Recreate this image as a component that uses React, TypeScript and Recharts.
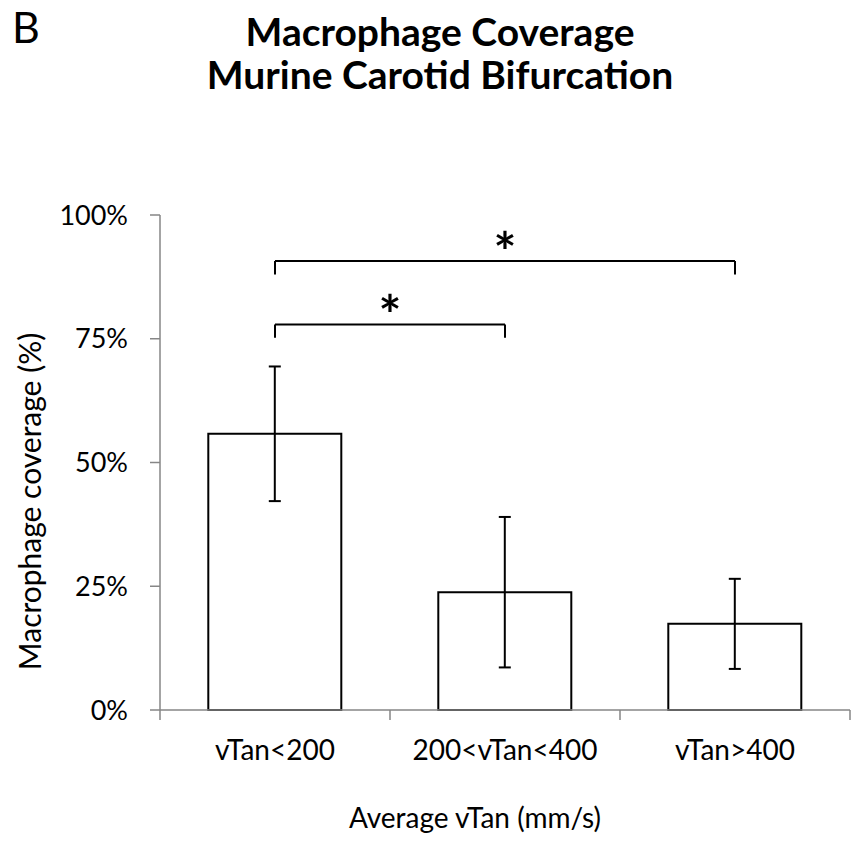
import { BarChart, Bar, XAxis, YAxis, ErrorBar, ReferenceLine, Label } from 'recharts'

const categories = ['vTan<200', '200<vTan<400', 'vTan>400']
const coverage = [55.8, 23.8, 17.4]
const coverageErr = [13.6, 15.2, 9.1]
const yTicks = [0, 25, 50, 75, 100]

// significance brackets, in % units
const brackets = [
  { from: 'vTan<200', to: '200<vTan<400', top: 77.9, foot: 75.2 },
  { from: 'vTan<200', to: 'vTan>400', top: 90.7, foot: 88.0 },
]

const data = categories.map((name, i) => ({ name, coverage: coverage[i], err: coverageErr[i] }))

const FONT = 'Lato, "Open Sans", sans-serif'
const AXIS = '#868686'

// Excel-style category tick: tick marks sit on the band edges, label in the middle
function CatTick(props: any) {
  const { x, y, payload, index, width } = props
  const half = width / categories.length / 2
  const last = index === categories.length - 1
  return (
    <g>
      <line x1={x - half} x2={x - half} y1={y} y2={y + 10} stroke={AXIS} strokeWidth={1.5} />
      {last && <line x1={x + half} x2={x + half} y1={y} y2={y + 10} stroke={AXIS} strokeWidth={1.5} />}
      <text x={x} y={y + 50} textAnchor="middle" fill="#000" fontSize={28} fontFamily={FONT}>
        {payload.value}
      </text>
    </g>
  )
}

export default function App() {
  return (
    <div style={{ position: 'absolute', left: 0, top: 0, width: 860, height: 846, background: '#fff', fontFamily: FONT }}>
      <BarChart width={860} height={846} data={data} barCategoryGap="21%"
        margin={{ top: 215, right: 10, bottom: 16, left: 0 }}>
        <XAxis dataKey="name" tickLine={false} tickSize={0} tickMargin={0} height={120} interval={0}
          axisLine={{ stroke: AXIS, strokeWidth: 1.5 }} tick={<CatTick />}>
          <Label content={({ viewBox }: any) => (
            <text x={viewBox.x + viewBox.width / 2 - 30} y={viewBox.y + viewBox.height - 2} textAnchor="middle"
              fill="#000" fontSize={28} fontFamily={FONT}>
              Average vTan (mm/s)
            </text>
          )} />
        </XAxis>
        <YAxis domain={[0, 100]} ticks={yTicks} width={160} tickSize={10} tickMargin={22}
          tickFormatter={(v: number) => `${v}%`}
          tick={{ fill: '#000', fontSize: 27, fontFamily: FONT }}
          axisLine={{ stroke: AXIS, strokeWidth: 1.5 }} tickLine={{ stroke: AXIS, strokeWidth: 1.5 }}>
          <Label content={({ viewBox }: any) => {
            const cx = viewBox.x + 41
            const cy = viewBox.y + viewBox.height / 2 + 39
            return (
              <text x={cx} y={cy} transform={`rotate(-90 ${cx} ${cy})`} textAnchor="middle"
                fill="#000" fontSize={30} fontFamily={FONT}>
                Macrophage coverage (%)
              </text>
            )
          }} />
        </YAxis>
        <Bar dataKey="coverage" fill="#fff" stroke="#000" strokeWidth={2} isAnimationActive={false}>
          <ErrorBar dataKey="err" width={6} stroke="#000" strokeWidth={2} direction="y" />
        </Bar>
        {brackets.map((b) => [
          <ReferenceLine key={b.to + 'h'} stroke="#000" strokeWidth={2}
            segment={[{ x: b.from, y: b.top }, { x: b.to, y: b.top }]}>
            <Label value="*" position="top" offset={-10}
              style={{ fill: '#000', fontSize: 54, fontWeight: 700, fontFamily: FONT }} />
          </ReferenceLine>,
          <ReferenceLine key={b.to + 'l'} stroke="#000" strokeWidth={2}
            segment={[{ x: b.from, y: b.top }, { x: b.from, y: b.foot }]} />,
          <ReferenceLine key={b.to + 'r'} stroke="#000" strokeWidth={2}
            segment={[{ x: b.to, y: b.top }, { x: b.to, y: b.foot }]} />,
        ])}
      </BarChart>
      <div style={{ position: 'absolute', left: 12, top: 2, fontSize: 43, lineHeight: '50px' }}>B</div>
      <div style={{ position: 'absolute', left: 0, top: 10, width: 880, textAlign: 'center',
        fontSize: 39, fontWeight: 700, lineHeight: '43px' }}>
        <div>Macrophage Coverage</div>
        <div>Murine Carotid Bifurcation</div>
      </div>
    </div>
  )
}
